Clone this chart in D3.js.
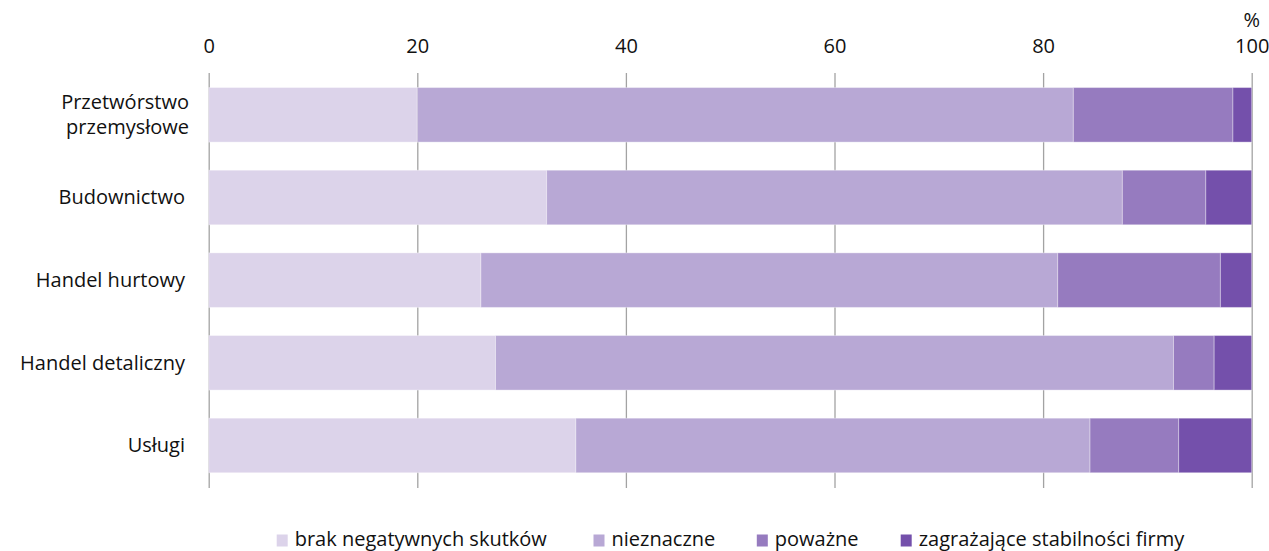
<!DOCTYPE html>
<html>
<head>
<meta charset="utf-8">
<script src="https://cdn.jsdelivr.net/npm/d3@7"></script>
<style>
  html, body { margin: 0; padding: 0; background: #fff; }
  svg { display: block; font-family: "Open Sans", "Noto Sans", sans-serif; }
</style>
</head>
<body>
<svg id="chart" width="1269" height="551"></svg>
<script>
const categories = ["Przetwórstwo\nprzemysłowe", "Budownictwo", "Handel hurtowy", "Handel detaliczny", "Usługi"];
const seriesNames = ["brak negatywnych skutków", "nieznaczne", "poważne", "zagrażające stabilności firmy"];
const brak = [20.0, 32.4, 26.1, 27.5, 35.2];
const nieznaczne = [62.9, 55.2, 55.3, 65.0, 49.3];
const powazne = [15.3, 8.0, 15.6, 3.9, 8.5];
const zagrazajace = [1.8, 4.4, 3.0, 3.6, 7.0];
const tickValues = [0, 20, 40, 60, 80, 100];
const colors = ["#dcd3ea", "#b8a8d5", "#967bbf", "#7450ab"];

const series = [brak, nieznaczne, powazne, zagrazajace];
const rows = categories.map((c, i) => {
  const r = { cat: c };
  seriesNames.forEach((s, k) => r[s] = series[k][i]);
  return r;
});
const stacked = d3.stack().keys(seriesNames)(rows);

const svg = d3.select("#chart");
const x = d3.scaleLinear().domain([0, 100]).range([208.7, 1251.7]);
const y = d3.scaleBand().domain(categories).range([73.5, 486.8]).paddingInner(0.34).paddingOuter(0.17);
const gridTop = 73, gridBottom = 488;

// gridlines via axis
const gAxis = svg.append("g").attr("transform", `translate(0,${gridBottom})`)
  .call(d3.axisTop(x).tickValues(tickValues).tickSize(gridBottom - gridTop).tickFormat(""));
gAxis.select(".domain").remove();
gAxis.selectAll(".tick line").attr("stroke", "#a3a3a3").attr("stroke-width", 1.3);

// tick labels
const gLab = svg.append("g").attr("transform", "translate(0,52.5)")
  .call(d3.axisTop(x).tickValues(tickValues).tickSize(0).tickPadding(0));
gLab.select(".domain").remove();
gLab.selectAll(".tick text").attr("font-size", 20).attr("fill", "#111")
  .attr("font-family", '"Open Sans", sans-serif').attr("dy", 0);

svg.append("text").attr("x", x(100)).attr("y", 26.5).attr("text-anchor", "middle")
  .attr("font-size", 20).attr("fill", "#111").text("%");

// bars
svg.append("g").selectAll("g").data(stacked).join("g")
  .attr("fill", (d, i) => colors[i])
  .selectAll("rect").data(d => d).join("rect")
  .attr("x", d => x(d[0]))
  .attr("width", d => x(d[1]) - x(d[0]))
  .attr("y", d => y(d.data.cat))
  .attr("height", y.bandwidth())
  .attr("stroke", "rgba(255,255,255,0.35)")
  .attr("stroke-width", 1);

// category labels
const gy = svg.append("g");
categories.forEach(c => {
  const lines = c.split("\n");
  const cy = y(c) + y.bandwidth() / 2;
  const lh = 25;
  const t = gy.append("text").attr("text-anchor", "end").attr("font-size", 20).attr("fill", "#111");
  const xr = lines.length > 1 ? 189 : 185;
  lines.forEach((l, i) => {
    t.append("tspan").attr("x", xr)
      .attr("y", cy + (i - (lines.length - 1) / 2) * lh)
      .attr("dy", "0.35em").text(l);
  });
});

// legend
const legendX = [276.7, 593.5, 756.8, 900.7];
const leg = svg.append("g");
seriesNames.forEach((s, i) => {
  leg.append("rect").attr("x", legendX[i]).attr("y", 534.5).attr("width", 11).attr("height", 12).attr("fill", colors[i]);
  leg.append("text").attr("x", legendX[i] + 18).attr("y", 545.5).attr("font-size", 20).attr("fill", "#111").text(s);
});
</script>
</body>
</html>
